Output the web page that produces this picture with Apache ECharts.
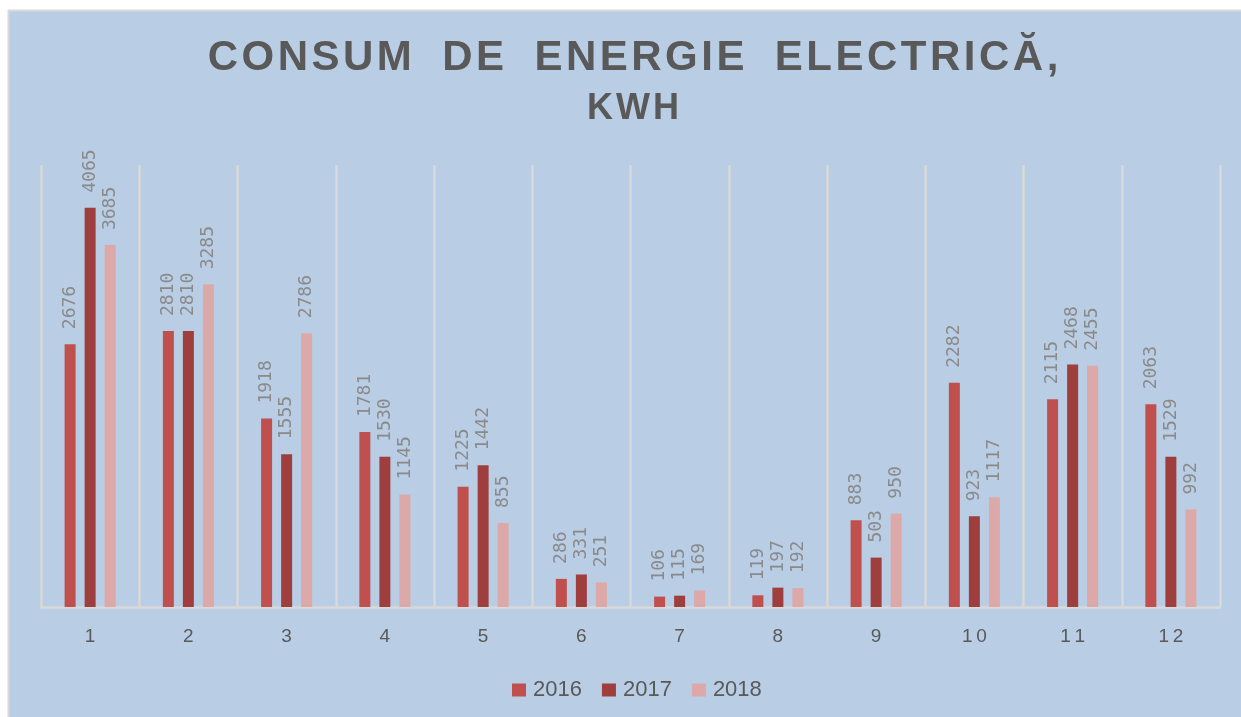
<!DOCTYPE html>
<html style="height: 100%">
   <head>
       <meta charset="utf-8">
   </head>
   <body style="height: 100%; margin: 0; width: 100%; background: #fff;">
       <div id="container" style="height: 717px; width: 1241px;"></div>
       <script type="text/javascript" src="https://cdn.jsdelivr.net/npm/echarts@6/dist/echarts.min.js"></script>
       <script type="text/javascript">
// luni
var months = ['1', '2', '3', '4', '5', '6', '7', '8', '9', '10', '11', '12'];
var years = ['2016', '2017', '2018'];
var kwh2016 = [2676, 2810, 1918, 1781, 1225, 286, 106, 119, 883, 2282, 2115, 2063];
var kwh2017 = [4065, 2810, 1555, 1530, 1442, 331, 115, 197, 503, 923, 2468, 1529];
var kwh2018 = [3685, 3285, 2786, 1145, 855, 251, 169, 192, 950, 1117, 2455, 992];
var colors = ['#C0504D', '#9E3F3D', '#DCA9A8'];

// spatiere intre litere (ca in Excel)
function spaced(s) {
    return s.split('').join('\u200A');
}

var dom = document.getElementById("container");
var myChart = echarts.init(dom);
var option = null;

function makeSeries(name, data, color) {
    return {
        name: name,
        type: 'bar',
        data: data,
        barWidth: 11,
        barGap: '82%',
        itemStyle: {color: color},
        label: {
            show: true,
            position: 'top',
            rotate: 90,
            align: 'left',
            verticalAlign: 'middle',
            distance: 15,
            color: '#8A8A8A',
            fontFamily: 'DejaVu Sans Mono',
            fontSize: 18
        }
    };
}

option = {
    animation: false,
    graphic: [{
        type: 'rect',
        z: -10,
        shape: {x: 8.5, y: 10.5, width: 1240, height: 720},
        style: {fill: '#B9CDE5', stroke: '#D9D9D9', lineWidth: 2}
    }],
    title: [{
        text: spaced('CONSUM DE ENERGIE ELECTRICĂ,').replace(/ /g, '  '),
        left: 628,
        top: 32,
        textAlign: 'center',
        textStyle: {color: '#595959', fontSize: 42, fontWeight: 'bold', fontFamily: 'Liberation Sans'}
    }, {
        text: spaced('KWH'),
        left: 628,
        top: 86,
        textAlign: 'center',
        textStyle: {color: '#595959', fontSize: 36, fontWeight: 'bold', fontFamily: 'Liberation Sans'}
    }],
    legend: {
        data: years,
        left: 507,
        top: 674,
        itemWidth: 14,
        itemHeight: 13,
        itemGap: 20,
        icon: 'rect',
        textStyle: {color: '#595959', fontSize: 22, fontFamily: 'Liberation Sans', padding: [0, 0, 0, 2]}
    },
    grid: {left: 41, right: 21, top: 165, bottom: 110, containLabel: false},
    xAxis: {
        type: 'category',
        data: months,
        axisLine: {lineStyle: {color: '#D9D9D9', width: 2.5}},
        axisTick: {show: false},
        splitLine: {show: true, lineStyle: {color: '#D9D9D9', width: 2.5}},
        axisLabel: {
            color: '#595959',
            fontSize: 19,
            fontFamily: 'Liberation Sans',
            margin: 20,
            formatter: function (v) { return v.split('').join('\u2009'); }
        }
    },
    yAxis: {
        type: 'value',
        min: 0,
        max: 4500,
        show: false,
        splitLine: {show: false}
    },
    series: [
        makeSeries(years[0], kwh2016, colors[0]),
        makeSeries(years[1], kwh2017, colors[1]),
        makeSeries(years[2], kwh2018, colors[2])
    ]
};

if (option && typeof option === "object") {
    myChart.setOption(option, true);
}
       </script>
   </body>
</html>
